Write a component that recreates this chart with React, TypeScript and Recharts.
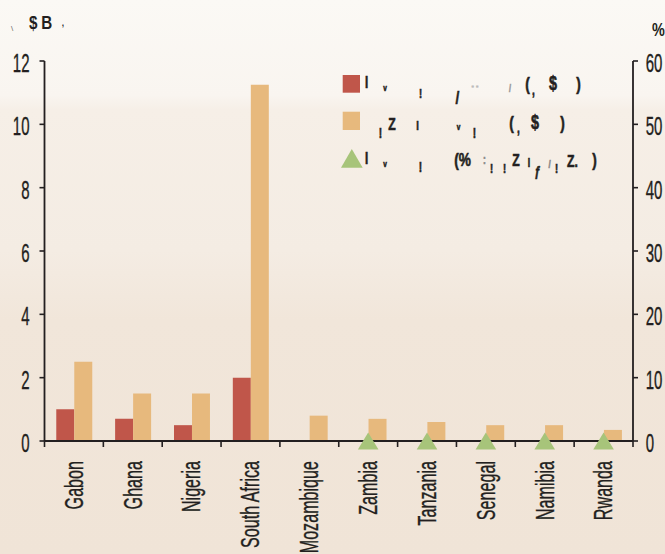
import React from 'react';
import { ComposedChart, Bar, Scatter, XAxis, YAxis } from 'recharts';

// Countries along the category axis
const CATEGORIES = ['Gabon', 'Ghana', 'Nigeria', 'South Africa', 'Mozambique', 'Zambia', 'Tanzania', 'Senegal', 'Namibia', 'Rwanda'];
// Left axis ($B) series
const SERIES_RED = [1.0, 0.7, 0.5, 2.0, null, null, null, null, null, null];
const SERIES_TAN = [2.5, 1.5, 1.5, 11.25, 0.8, 0.7, 0.6, 0.5, 0.5, 0.35];
// Right axis (%) series
const SERIES_SHARE = [null, null, null, null, null, 0, 0, 0, 0, 0];
// Tick labels
const LEFT_TICKS = [0, 2, 4, 6, 8, 10, 12];
const RIGHT_TICKS = [0, 10, 20, 30, 40, 50, 60];

const data = CATEGORIES.map((name, i) => ({
  name,
  red: SERIES_RED[i],
  tan: SERIES_TAN[i],
  share: SERIES_SHARE[i],
}));

const W = 665;
const H = 554;
const LEFT_W = 44.5;
const RIGHT_W = 32;
const PLOT_W = W - LEFT_W - RIGHT_W;
const INK = '#231f20';
const RED = '#c0564a';
const TAN = '#e7b97d';
const GREEN = '#a7c47a';
const FONT = '"Liberation Sans", Arial, sans-serif';

const XTick = (props: any) => {
  const { x, y, payload, index } = props;
  const band = PLOT_W / CATEGORIES.length;
  const isLast = index === CATEGORIES.length - 1;
  return (
    <g>
      <line x1={x - band / 2} x2={x - band / 2} y1={y} y2={y + 6} stroke={INK} strokeWidth={1.6} />
      {isLast && <line x1={x + band / 2} x2={x + band / 2} y1={y} y2={y + 6} stroke={INK} strokeWidth={1.6} />}
      <g transform={`translate(${x},${y + 20}) rotate(-90) scale(0.62,1)`}>
        <text x={0} y={8.8} textAnchor="end" fontSize={26} fontFamily={FONT} fill={INK} stroke={INK} strokeWidth={0.35}>
          {payload.value}
        </text>
      </g>
    </g>
  );
};

const YTick = (props: any) => {
  const { x, y, payload, side } = props;
  const tx = side === 'left' ? x - 10 : x + 7.7;
  return (
    <g transform={`translate(${tx},${y + 11}) scale(0.6,1)`}>
      <text
        x={0}
        y={0}
        textAnchor={side === 'left' ? 'end' : 'start'}
        fontSize={25}
        fontFamily={FONT}
        fill={INK}
        stroke={INK}
        strokeWidth={0.35}
      >
        {payload.value}
      </text>
    </g>
  );
};

const Triangle = (props: any) => {
  const { cx, cy, payload } = props;
  if (payload == null || payload.share == null || cx == null || cy == null || isNaN(cy)) return <g />;
  return <polygon points={`${cx},${cy - 8.4} ${cx - 10.3},${cy + 8.6} ${cx + 10.3},${cy + 8.6}`} fill={GREEN} />;
};

// Legend glyph runs: [centre x, baseline y, text, size, colour]
type Glyph = [number, number, string, number, string?];
const LEGEND_GLYPHS: Glyph[] = [
  [366.5, 87.5, 'I', 16],
  [385, 91, 'v', 9],
  [420.5, 98, '!', 13],
  [457.5, 104, '/', 19],
  [475, 89, '- -', 10, '#bbb'],
  [510, 92, '/', 10, '#999'],
  [527.5, 90, '(', 19],
  [533.5, 95, ',', 14],
  [553, 90, '$', 20],
  [578.5, 90, ')', 19],

  [380.5, 138, '!', 14],
  [392, 130, 'Z', 17],
  [417.5, 130, 'I', 13],
  [458.5, 130, 'v', 9],
  [474.5, 138, '!', 14],
  [511.5, 129, '(', 19],
  [518.5, 133, ',', 14],
  [535, 129, '$', 20],
  [562.5, 129, ')', 19],

  [366.5, 163.5, 'I', 16],
  [385, 167, 'v', 9],
  [420.5, 172, '!', 14],
  [462.5, 166, '(%', 19],
  [484.5, 164, ':', 12, '#888'],
  [491.5, 173, '!', 13],
  [504.5, 173, '!', 13],
  [516, 166, 'Z', 17],
  [529, 167, 'I', 12],
  [537.5, 176, 'ƒ', 15],
  [549.5, 168, '/', 11, '#888'],
  [556.5, 173, '!', 13],
  [572.5, 167, 'Z.', 17],
  [594.5, 166, ')', 19],
];

const Overlay = () => (
  <svg width={W} height={H} style={{ position: 'absolute', left: 0, top: 0, pointerEvents: 'none' }}>
    {/* unit headers */}
    <text x={12} y={31} fontSize={8} fontFamily={FONT} fill="#666" textAnchor="middle">\</text>
    <g transform="translate(33.3,29) scale(0.8,1)">
      <text textAnchor="middle" fontSize={19} fontWeight="bold" fontFamily={FONT} fill={INK}>$</text>
    </g>
    <g transform="translate(46.7,29) scale(0.8,1)">
      <text textAnchor="middle" fontSize={19} fontWeight="bold" fontFamily={FONT} fill={INK}>B</text>
    </g>
    <text x={63} y={26} fontSize={12} fontFamily={FONT} fill={INK} textAnchor="middle">,</text>
    <g transform="translate(658.5,36) scale(0.8,1)">
      <text textAnchor="middle" fontSize={18} fontWeight="bold" fontFamily={FONT} fill={INK}>%</text>
    </g>

    {/* legend markers */}
    <rect x={342.7} y={75} width={17.3} height={17.7} fill={RED} />
    <rect x={342.7} y={111.7} width={17.3} height={18.3} fill={TAN} />
    <polygon points="341,167.7 362.7,167.7 351.8,149" fill={GREEN} />

    {LEGEND_GLYPHS.map(([gx, gy, t, size, color], i) => (
      <g key={i} transform={`translate(${gx},${gy}) scale(0.72,1)`}>
        <text
          textAnchor="middle"
          fontSize={size}
          fontWeight="bold"
          fontFamily={FONT}
          fill={color || INK}
          stroke={color || INK}
          strokeWidth={0.6}
        >
          {t}
        </text>
      </g>
    ))}
  </svg>
);

export default function App() {
  return (
    <div
      style={{
        position: 'relative',
        width: W,
        height: H,
        background:
          'linear-gradient(to bottom, #fbf9f5 0px, #f9f5f0 95px, #f6efe7 110px, #f4ece3 250px, #f1e6da 320px, #f0e4d7 554px)',
      }}
    >
      <style>{'body{margin:0}'}</style>
      <ComposedChart
        width={W}
        height={H}
        data={data}
        margin={{ top: 61, right: 0, bottom: 0, left: 0 }}
        barCategoryGap="20%"
        barGap={0}
      >
        <XAxis
          dataKey="name"
          interval={0}
          height={113}
          tickLine={false}
          tickSize={0}
          tickMargin={0}
          axisLine={{ stroke: INK, strokeWidth: 1.8 }}
          tick={<XTick />}
        />
        <YAxis
          yAxisId="left"
          orientation="left"
          width={LEFT_W}
          domain={[0, 12]}
          ticks={LEFT_TICKS}
          interval={0}
          tickSize={5}
          tickMargin={0}
          tickLine={{ stroke: INK, strokeWidth: 1.6 }}
          axisLine={{ stroke: INK, strokeWidth: 1.8 }}
          tick={<YTick side="left" />}
        />
        <YAxis
          yAxisId="right"
          orientation="right"
          width={RIGHT_W}
          domain={[0, 60]}
          ticks={RIGHT_TICKS}
          interval={0}
          tickSize={5}
          tickMargin={0}
          tickLine={{ stroke: INK, strokeWidth: 1.6 }}
          axisLine={{ stroke: INK, strokeWidth: 1.8 }}
          tick={<YTick side="right" />}
        />
        <Bar yAxisId="left" dataKey="red" fill={RED} isAnimationActive={false} />
        <Bar yAxisId="left" dataKey="tan" fill={TAN} isAnimationActive={false} />
        <Scatter yAxisId="right" dataKey="share" shape={<Triangle />} isAnimationActive={false} />
      </ComposedChart>
      <Overlay />
    </div>
  );
}
